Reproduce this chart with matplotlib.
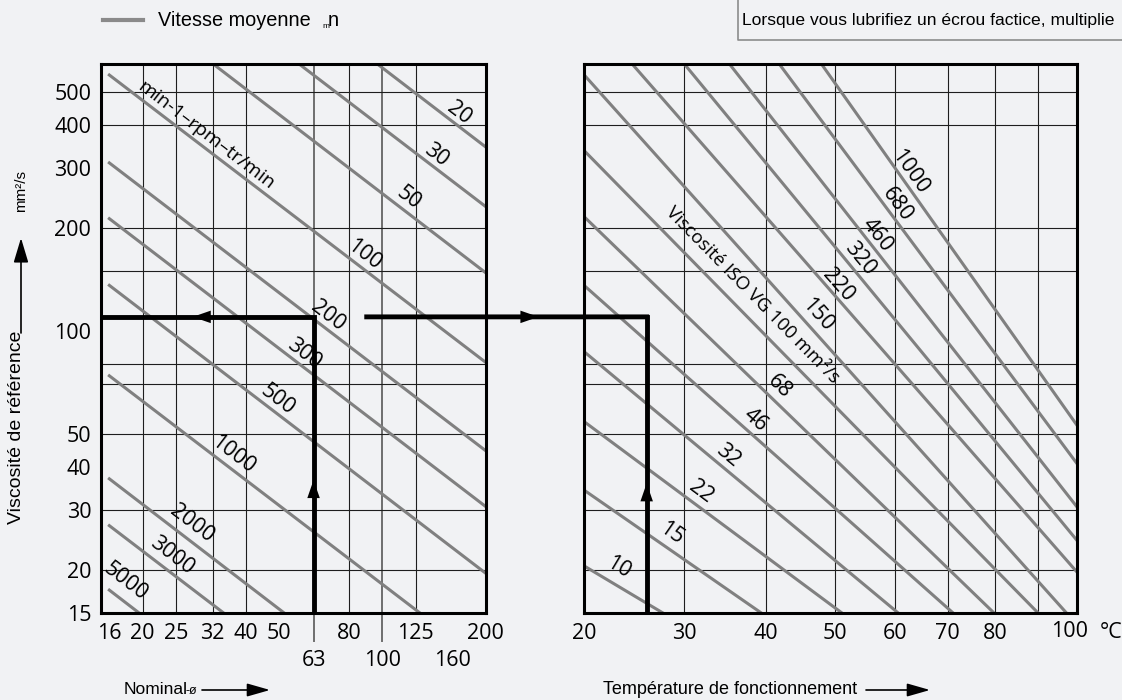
import numpy as np
import matplotlib.pyplot as plt
from matplotlib.patches import ConnectionPatch
from matplotlib.lines import Line2D
from matplotlib.ticker import NullLocator


############################################################
#            Dati                        #
############################################################

# Pannello sinistro: diametro nominale (mm) / velocita media (min-1)
speed_labels = ['20', '30', '50', '100', '200', '300', '500', '1000', '2000', '3000', '5000']
visc_at_d16  = [2400, 1600, 1030, 560, 310, 213, 136, 74, 37, 27, 17.5]
visc_at_d200 = [345, 231, 148, 81, 44.7, 30.7, 19.6, 10.7, 5.3, 3.9, 2.5]
speed_lab_d  = [167, 143, 119.6, 88.5, 69.2, 59.2, 49.5, 36.7, 27.8, 24.3, 17.8]
speed_lab_v  = [433, 327, 244, 167, 111, 86, 62.9, 43.4, 27.4, 22, 18.5]

diam_ticks  = [16, 20, 25, 32, 40, 50, 80, 125, 200]
diam_ticks2 = [63, 100, 160]
diam_grid   = [20, 25, 32, 40, 80, 125]
diam_grid2  = [63, 100]

# Asse viscosita (comune)
visc_ticks = [15, 20, 30, 40, 50, 100, 200, 300, 400, 500]
visc_grid  = [20, 30, 50, 70, 80, 150, 200, 400, 500]

# Pannello destro: temperatura (C) / classi ISO VG
iso_labels = ['10', '15', '22', '32', '46', '68', 'Viscosité ISO VG 100 mm²/s',
              '150', '220', '320', '460', '680', '1000']
iso_t1 = [20, 20, 20, 20, 20, 20, 20, 20, 24.6, 30.1, 35.4, 41.9, 48.0]
iso_v1 = [20.6, 34.3, 54.4, 87.1, 136, 216, 337, 561, 600, 600, 600, 600, 600]
iso_t2 = [27.7, 39.4, 51.1, 60.6, 71.1, 79.8, 90.1, 97.3, 100, 100, 100, 100, 100]
iso_v2 = [15, 15, 15, 15, 15, 15, 15, 15, 19.8, 24.5, 30.7, 41.1, 53.2]
iso_lab_t = [23.2, 28.6, 31.9, 35.2, 38.6, 41.8, 38.2, 47.3, 50.5, 54.0, 56.9, 60.4, 62.7]
iso_lab_v = [20.3, 25.6, 33.9, 43.4, 55, 68.8, 127.6, 111, 136, 163, 191, 234, 292]

temp_ticks = [20, 30, 40, 50, 60, 70, 80, 100]
temp_grid  = [30, 40, 50, 60, 70, 80, 90]

# Esempio di lettura (frecce nere)
ex_diam  = 63
ex_visc  = 110
ex_temp  = 26
ex_start = 90


############################################################
#            Scala temperatura                             #
############################################################

def t_fwd(t):
    t = np.asarray(t, dtype=float)
    return np.log(np.clip(t + 20, 1e-6, None))

def t_inv(u):
    return np.exp(u) - 20


def line_angle(ax, x, y):
    p = ax.transData.transform(np.column_stack([x, y]))
    return np.degrees(np.arctan2(p[1, 1] - p[0, 1], p[1, 0] - p[0, 0]))


def arrow_head(ax, tip, tail, coords='data', ms=10):
    ax.annotate('', xy=tip, xytext=tail, xycoords=coords, textcoords=coords,
                annotation_clip=False,
                arrowprops=dict(arrowstyle='-|>,head_length=1.3,head_width=0.45',
                                color='k', lw=0, shrinkA=0, shrinkB=0,
                                mutation_scale=ms))


############################################################
#            Grafico                                       #
############################################################

def nomogramma():

    bg = '#f1f2f4'
    gray = '#808080'
    gridc = '#1e1e1e'
    fs_num = 15.5

    plt.rcParams['font.family'] = ['Open Sans', 'DejaVu Sans']

    fig = plt.figure(figsize=(11.22, 7.0), dpi=100, facecolor=bg)

    ax1 = fig.add_axes([101/1122, 87/700, 384.7/1122, 549/700], facecolor=bg)
    ax2 = fig.add_axes([584/1122, 87/700, 492.7/1122, 549/700], facecolor=bg)

    #--------------------------------------------------------#
    #  Pannello sinistro                                     #
    #--------------------------------------------------------#
    ax1.set_xscale('log')
    ax1.set_yscale('log')
    ax1.set_xlim(15.13, 198.6)
    ax1.set_ylim(15, 603)

    for d in diam_grid:
        ax1.axvline(d, color=gridc, lw=0.8, zorder=1)
    for d in diam_grid2:
        ax1.plot([d, d], [0, -0.051], color='#6e6e6e', lw=1.4, zorder=1,
                 transform=ax1.get_xaxis_transform(), clip_on=False)
        ax1.axvline(d, color='#6e6e6e', lw=1.4, zorder=1)
    for v in visc_grid:
        ax1.axhline(v, color=gridc, lw=0.8, zorder=1)

    for i in range(len(speed_labels)):
        ax1.plot([16, 200], [visc_at_d16[i], visc_at_d200[i]], color=gray, lw=2.2, zorder=2)

    ang = line_angle(ax1, [16, 200], [visc_at_d16[0], visc_at_d200[0]])
    for i, lab in enumerate(speed_labels):
        ax1.text(speed_lab_d[i], speed_lab_v[i], lab, rotation=ang, rotation_mode='anchor',
                 ha='center', va='center', fontsize=fs_num, zorder=4)
    ax1.text(30.7, 372, 'min-1–rpm–tr/min', rotation=ang, rotation_mode='anchor',
             ha='center', va='center', fontsize=14, zorder=4)

    ax1.set_xticks(diam_ticks)
    ax1.set_xticklabels([str(d) for d in diam_ticks])
    ax1.set_yticks(visc_ticks)
    ax1.set_yticklabels([str(v) for v in visc_ticks])
    ax1.xaxis.set_minor_locator(NullLocator())
    ax1.yaxis.set_minor_locator(NullLocator())
    ax1.tick_params(length=0, labelsize=fs_num)
    ax1.tick_params(axis='x', pad=7)
    ax1.tick_params(axis='y', pad=7)
    for d in diam_ticks2:
        ax1.text(d, -0.087, str(d), transform=ax1.get_xaxis_transform(),
                 ha='center', va='center', fontsize=fs_num)

    #--------------------------------------------------------#
    #  Pannello destro                                       #
    #--------------------------------------------------------#
    ax2.set_xscale('function', functions=(t_fwd, t_inv))
    ax2.set_yscale('log')
    ax2.set_xlim(20, 100)
    ax2.set_ylim(15, 603)

    for t in temp_grid:
        ax2.axvline(t, color=gridc, lw=0.8, zorder=1)
    for v in visc_grid:
        ax2.axhline(v, color=gridc, lw=0.8, zorder=1)

    for i in range(len(iso_labels)):
        ax2.plot([iso_t1[i], iso_t2[i]], [iso_v1[i], iso_v2[i]], color=gray, lw=2.2, zorder=2)
        a = line_angle(ax2, [iso_t1[i], iso_t2[i]], [iso_v1[i], iso_v2[i]])
        fs = 13.5 if len(iso_labels[i]) > 5 else fs_num
        ax2.text(iso_lab_t[i], iso_lab_v[i], iso_labels[i], rotation=a, rotation_mode='anchor',
                 ha='center', va='center', fontsize=fs, zorder=4)

    # l'etichetta 100 e' spostata a sinistra nell'originale: la scrivo a parte
    ax2.set_xticks(temp_ticks)
    ax2.set_xticklabels([str(t) if t != temp_ticks[-1] else '' for t in temp_ticks])
    ax2.set_yticks([])
    ax2.xaxis.set_minor_locator(NullLocator())
    ax2.yaxis.set_minor_locator(NullLocator())
    ax2.tick_params(length=0, labelsize=fs_num, pad=7)
    ax2.annotate(str(temp_ticks[-1]), xy=(temp_ticks[-1], 0), xycoords=ax2.get_xaxis_transform(),
                 xytext=(-5, -13.5), textcoords='offset points', ha='center', va='center',
                 fontsize=fs_num, annotation_clip=False)
    fig.text(1111/1122, 68/700, '°C', ha='center', va='center', fontsize=fs_num)

    for ax in (ax1, ax2):
        for s in ax.spines.values():
            s.set_linewidth(2.2)
            s.set_color('k')
            s.set_zorder(5)

    #--------------------------------------------------------#
    #  Frecce esempio                                        #
    #--------------------------------------------------------#
    ax1.plot([ex_diam, ex_diam, ax1.get_xlim()[0]], [15, ex_visc, ex_visc], color='k',
             lw=3.5, zorder=3, solid_joinstyle='miter', solid_capstyle='butt')
    ax2.plot([ex_temp, ex_temp], [15, ex_visc], color='k', lw=3.5, zorder=3,
             solid_capstyle='projecting')
    con = ConnectionPatch(xyA=(ex_start, ex_visc), coordsA=ax1.transData,
                          xyB=(ex_temp, ex_visc), coordsB=ax2.transData,
                          color='k', lw=3.5, zorder=3)
    con.set_capstyle('projecting')
    fig.add_artist(con)

    arrow_head(ax1, (ex_diam, 36.7), (ex_diam, 24))
    arrow_head(ax1, (28, ex_visc), (45, ex_visc))
    arrow_head(ax1, (285, ex_visc), (200, ex_visc))
    arrow_head(ax2, (ex_temp, 35.9), (ex_temp, 24))

    #--------------------------------------------------------#
    #  Testi e legenda                                       #
    #--------------------------------------------------------#
    sans = ['Liberation Sans', 'DejaVu Sans']

    fig.add_artist(Line2D([103/1122, 143/1122], [680/700, 680/700], color='#8a8a8a', lw=3))
    fig.text(158/1122, 680/700, 'Vitesse moyenne', family=sans, fontsize=14.3,
             ha='left', va='center')
    fig.text(322/1122, 673/700, 'm', family=sans, fontsize=6, ha='left', va='center')
    fig.text(328/1122, 680/700, 'n', family=sans, fontsize=14.3, ha='left', va='center')

    fig.add_artist(Line2D([738/1122, 738/1122, 1.0], [1.0, 660/700, 660/700],
                          color='#8c8c8c', lw=1.2))
    fig.text(742/1122, 680/700, 'Lorsque vous lubrifiez un écrou factice, multiplie',
             family=sans, fontsize=12.6, ha='left', va='center')

    fig.text(17/1122, (700-427)/700, 'Viscosité de référence', family=sans, fontsize=14,
             rotation=90, ha='center', va='center')
    fig.text(21/1122, (700-191)/700, 'mm²/s', family=sans, fontsize=11,
             rotation=90, ha='center', va='center')
    ax1.annotate('', xy=(21, 700-238), xytext=(21, 700-333), xycoords='figure pixels',
                 textcoords='figure pixels',
                 arrowprops=dict(arrowstyle='-|>,head_length=1.5,head_width=0.45',
                                 color='k', lw=1.2, shrinkA=0, shrinkB=0, mutation_scale=10))

    fig.text(124/1122, 10/700, 'Nominal', family=sans, fontsize=12.5, ha='left', va='center')
    fig.text(186/1122, 9/700, '-ø', family=sans, fontsize=9, ha='left', va='center')
    ax1.annotate('', xy=(270, 10), xytext=(202, 10), xycoords='figure pixels',
                 textcoords='figure pixels',
                 arrowprops=dict(arrowstyle='-|>,head_length=1.4,head_width=0.4',
                                 color='k', lw=1.2, shrinkA=0, shrinkB=0, mutation_scale=10))
    fig.text(603/1122, 10/700, 'Température de fonctionnement', family=sans,
             fontsize=13, ha='left', va='center')
    ax1.annotate('', xy=(930, 10), xytext=(866, 10), xycoords='figure pixels',
                 textcoords='figure pixels',
                 arrowprops=dict(arrowstyle='-|>,head_length=1.4,head_width=0.4',
                                 color='k', lw=1.2, shrinkA=0, shrinkB=0, mutation_scale=10))

    fig.savefig('out.png', dpi=100, facecolor=bg)


if __name__ == "__main__":

    nomogramma()
